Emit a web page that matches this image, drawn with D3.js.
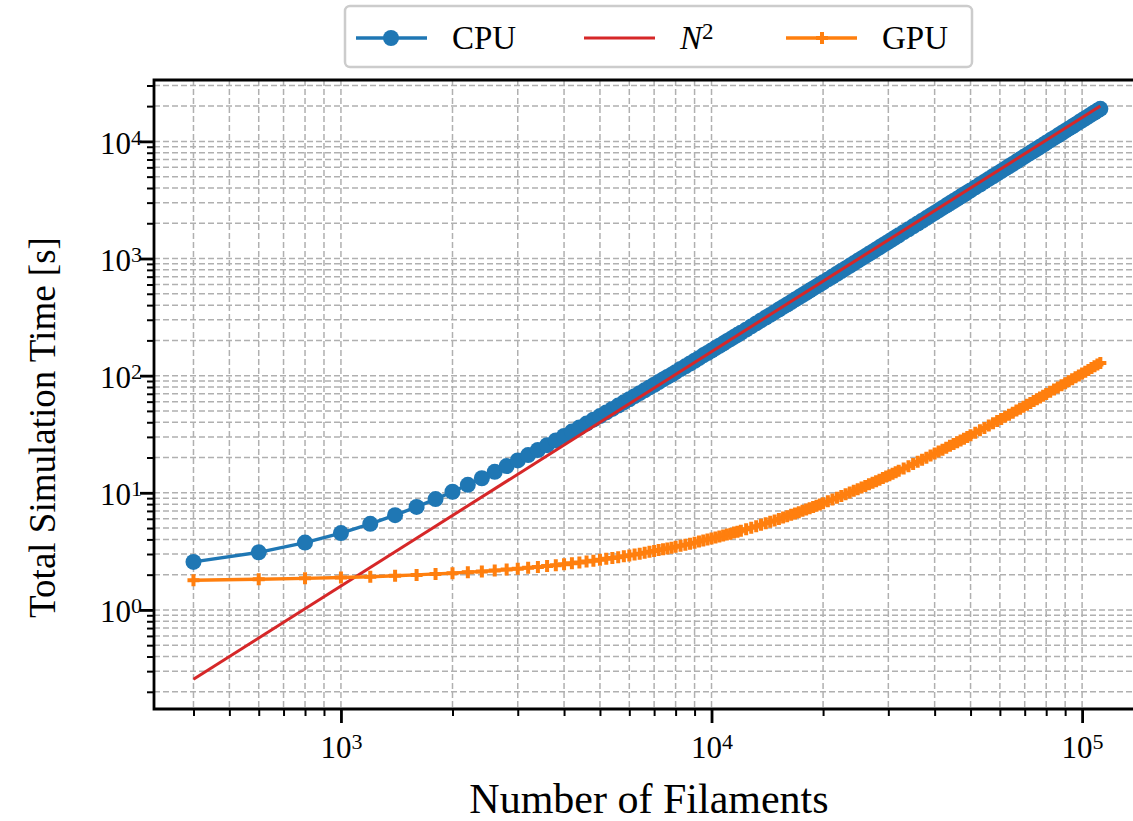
<!DOCTYPE html>
<html>
<head>
<meta charset="utf-8">
<script src="https://cdn.jsdelivr.net/npm/d3@7"></script>
<style>
  html, body { margin: 0; padding: 0; background: #fff; }
  svg { display: block; }
  svg text { font-family: "Liberation Serif", "DejaVu Serif", serif; }
</style>
</head>
<body>
<svg id="chart" width="1133" height="821"></svg>
<script>
  // --------------------------------------------------
  // 1. Data
  // --------------------------------------------------
  const filaments = [
    400, 600, 800, 1000, 1200, 1400, 1600, 1800, 2000, 2200, 2400, 2600, 2800, 3000, 3200, 3400, 3600, 3800, 4000,
    4200, 4400, 4600, 4800, 5000, 5200, 5400, 5600, 5800, 6000, 6200, 6400, 6600, 6800, 7000, 7200, 7400, 7600, 7800, 8000,
    8250, 8500, 8750, 9000, 9250, 9500, 9750, 10000, 10250, 10500, 10750, 11000, 11250, 11500, 11750, 12000,
    12400, 12800, 13200, 13600, 14000, 14400, 14800, 15200, 15600, 16000, 16400, 16800, 17200, 17600, 18000, 18400, 18800, 19200, 19600, 20000,
    20600, 21200, 21800, 22400, 23000, 23600, 24200, 24800, 25400, 26000, 26600, 27200, 27800, 28400, 29000, 29600, 30200, 30800, 31400, 32000,
    33000, 34000, 35000, 36000, 37000, 38000, 39000, 40000, 41000, 42000, 43000, 44000, 45000, 46000, 47000, 48000, 49000, 50000,
    51500, 53000, 54500, 56000, 57500, 59000, 60500, 62000, 63500, 65000, 66500, 68000, 69500, 71000, 72500, 74000, 75500, 77000, 78500, 80000,
    82000, 84000, 86000, 88000, 90000, 92000, 94000, 96000, 98000, 100000, 102000, 104000, 106000, 108000, 110000, 112000
  ];

  const cpuTime = [
    2.57, 3.10, 3.76, 4.53, 5.43, 6.44, 7.57, 8.83, 10.2, 11.7, 13.3, 15.1, 16.9, 18.9, 21.0, 23.2, 25.5, 28.0, 30.6,
    33.3, 36.1, 39.0, 42.1, 45.2, 48.5, 52.0, 55.5, 59.2, 62.9, 66.8, 70.9, 75.0, 79.3, 83.6, 88.1, 92.8, 97.5, 102, 107,
    114, 120, 127, 134, 141, 149, 156, 164, 172, 180, 188, 197, 205, 214, 223, 232,
    247, 263, 279, 296, 313, 330, 348, 367, 386, 405, 425, 446, 466, 488, 510, 532, 555, 578, 602, 626,
    663, 702, 741, 782, 823, 866, 910, 955, 1001, 1048, 1096, 1145, 1195, 1247, 1299, 1353, 1407, 1463, 1520, 1578,
    1677, 1778, 1883, 1991, 2102, 2216, 2333, 2452, 2575, 2701, 2830, 2962, 3097, 3235, 3376, 3519, 3666, 3816,
    4047, 4284, 4528, 4779, 5036, 5301, 5572, 5850, 6134, 6426, 6724, 7029, 7340, 7659, 7984, 8316, 8654, 9000, 9352, 9711,
    10200, 10701, 11214, 11740, 12277, 12826, 13387, 13961, 14546, 15143, 15752, 16374, 17007, 17653, 18310, 18979
  ];

  const gpuTime = [
    1.79, 1.83, 1.86, 1.89, 1.92, 1.96, 1.99, 2.03, 2.06, 2.10, 2.13, 2.17, 2.21, 2.25, 2.29, 2.33, 2.37, 2.41, 2.46,
    2.50, 2.54, 2.59, 2.63, 2.68, 2.73, 2.78, 2.82, 2.87, 2.92, 2.97, 3.02, 3.08, 3.13, 3.18, 3.24, 3.29, 3.35, 3.40, 3.46,
    3.53, 3.60, 3.68, 3.75, 3.83, 3.91, 3.99, 4.07, 4.15, 4.23, 4.31, 4.40, 4.48, 4.57, 4.65, 4.74,
    4.89, 5.03, 5.18, 5.34, 5.49, 5.65, 5.81, 5.97, 6.14, 6.31, 6.48, 6.66, 6.83, 7.01, 7.20, 7.38, 7.57, 7.76, 7.96, 8.16,
    8.46, 8.76, 9.08, 9.40, 9.73, 10.06, 10.40, 10.74, 11.10, 11.45, 11.82, 12.19, 12.57, 12.95, 13.34, 13.74, 14.14, 14.55, 14.96, 15.39,
    16.10, 16.84, 17.59, 18.36, 19.15, 19.95, 20.77, 21.62, 22.47, 23.35, 24.24, 25.15, 26.08, 27.03, 27.99, 28.97, 29.97, 30.99,
    32.54, 34.14, 35.78, 37.45, 39.17, 40.92, 42.72, 44.55, 46.43, 48.34, 50.29, 52.29, 54.32, 56.39, 58.50, 60.65, 62.84, 65.08, 67.35, 69.66,
    72.80, 76.01, 79.29, 82.64, 86.07, 89.56, 93.12, 96.76, 100.5, 104.2, 108.1, 112.0, 116.0, 120.0, 124.2, 128.4
  ];

  // reference N^2 curve (straight line in log-log)
  const n2Filaments = [400, 112000];
  const n2Time = [0.256, 20070];

  const seriesNames = ["CPU", "N2", "GPU"];
  const xMajorTicks = [1e3, 1e4, 1e5];
  const yMajorTicks = [1e0, 1e1, 1e2, 1e3, 1e4];

  // --------------------------------------------------
  // 2. Scales
  // --------------------------------------------------
  const svg = d3.select("#chart");
  const plot = { left: 154, right: 1144, top: 80, bottom: 709 };

  const x = d3.scaleLog().domain([313, 146900]).range([plot.left, plot.right]);
  const y = d3.scaleLog().domain([0.1426, 33420]).range([plot.bottom, plot.top]);

  const colors = { CPU: "#1f77b4", N2: "#d62728", GPU: "#ff7f0e" };
  const gridColor = "#b0b0b0";
  const lw = 3.4;        // data line width
  const markerR = 8;     // CPU circle radius
  const plusW = 4;       // GPU plus stroke

  svg.append("rect").attr("width", 1133).attr("height", 821).attr("fill", "#fff");

  svg.append("defs").append("clipPath").attr("id", "plotclip")
    .append("rect")
    .attr("x", plot.left).attr("y", plot.top)
    .attr("width", plot.right - plot.left).attr("height", plot.bottom - plot.top);

  // --------------------------------------------------
  // 3. Grid (major + minor, dashed)
  // --------------------------------------------------
  const xTicksAll = x.ticks();
  const yTicksAll = y.ticks();

  const grid = svg.append("g").attr("class", "grid");
  grid.selectAll("line.vx")
    .data(xTicksAll)
    .enter().append("line")
    .attr("class", "vx")
    .attr("x1", d => x(d)).attr("x2", d => x(d))
    .attr("y1", plot.top).attr("y2", plot.bottom);
  grid.selectAll("line.hy")
    .data(yTicksAll)
    .enter().append("line")
    .attr("class", "hy")
    .attr("y1", d => y(d)).attr("y2", d => y(d))
    .attr("x1", plot.left).attr("x2", plot.right);
  grid.selectAll("line")
    .style("stroke", gridColor)
    .style("stroke-width", 1.5)
    .style("stroke-dasharray", "6,3");

  // --------------------------------------------------
  // 4. Series
  // --------------------------------------------------
  const data = {
    CPU: filaments.map((n, i) => [n, cpuTime[i]]),
    N2: n2Filaments.map((n, i) => [n, n2Time[i]]),
    GPU: filaments.map((n, i) => [n, gpuTime[i]])
  };

  const lineGen = d3.line().x(d => x(d[0])).y(d => y(d[1]));
  const plotArea = svg.append("g").attr("clip-path", "url(#plotclip)");

  // CPU: line + circles
  plotArea.append("path")
    .datum(data.CPU)
    .attr("d", lineGen)
    .style("fill", "none")
    .style("stroke", colors.CPU)
    .style("stroke-width", lw);
  plotArea.selectAll("circle.cpu")
    .data(data.CPU)
    .enter().append("circle")
    .attr("class", "cpu")
    .attr("cx", d => x(d[0]))
    .attr("cy", d => y(d[1]))
    .attr("r", markerR)
    .style("fill", colors.CPU);

  // N^2 reference
  plotArea.append("path")
    .datum(data.N2)
    .attr("d", lineGen)
    .style("fill", "none")
    .style("stroke", colors.N2)
    .style("stroke-width", 3);

  // GPU: line + plus markers
  const plusPath = "M-6,0H6M0,-6V6";
  plotArea.append("path")
    .datum(data.GPU)
    .attr("d", lineGen)
    .style("fill", "none")
    .style("stroke", colors.GPU)
    .style("stroke-width", lw);
  plotArea.selectAll("path.gpu")
    .data(data.GPU)
    .enter().append("path")
    .attr("class", "gpu")
    .attr("transform", d => `translate(${x(d[0])},${y(d[1])})`)
    .attr("d", plusPath)
    .style("fill", "none")
    .style("stroke", colors.GPU)
    .style("stroke-width", plusW);

  // --------------------------------------------------
  // 5. Axes (minor + major ticks, power labels)
  // --------------------------------------------------
  const isMajor = v => Math.abs(Math.log10(v) - Math.round(Math.log10(v))) < 1e-9;

  function styleAxis(g, width) {
    g.select(".domain").remove();
    g.selectAll(".tick line").style("stroke", "#000").style("stroke-width", width);
    g.selectAll(".tick text").remove();
  }

  svg.append("g")
    .attr("transform", `translate(0,${plot.bottom})`)
    .call(d3.axisBottom(x).tickValues(xTicksAll.filter(d => !isMajor(d))).tickSize(7).tickFormat(""))
    .call(g => styleAxis(g, 2));
  const xMajor = svg.append("g")
    .attr("transform", `translate(0,${plot.bottom})`)
    .call(d3.axisBottom(x).tickValues(xMajorTicks).tickSize(14).tickFormat(""))
    .call(g => styleAxis(g, 2.8));

  svg.append("g")
    .attr("transform", `translate(${plot.left},0)`)
    .call(d3.axisLeft(y).tickValues(yTicksAll.filter(d => !isMajor(d))).tickSize(7).tickFormat(""))
    .call(g => styleAxis(g, 2));
  const yMajor = svg.append("g")
    .attr("transform", `translate(${plot.left},0)`)
    .call(d3.axisLeft(y).tickValues(yMajorTicks).tickSize(14).tickFormat(""))
    .call(g => styleAxis(g, 2.8));

  function powerLabel(sel) {
    sel.append("tspan").style("font-size", "31px").text("10");
    sel.append("tspan")
      .attr("dy", "-0.42em")
      .style("font-size", "22px")
      .text(d => Math.round(Math.log10(d)));
  }

  xMajor.selectAll(".tick")
    .append("text")
    .attr("y", 49)
    .attr("text-anchor", "middle")
    .attr("fill", "#000")
    .call(powerLabel);

  yMajor.selectAll(".tick")
    .append("text")
    .attr("x", -12)
    .attr("y", 12)
    .attr("text-anchor", "end")
    .attr("fill", "#000")
    .call(powerLabel);

  // spines (right one falls outside the picture)
  svg.append("path")
    .attr("d", `M${plot.right},${plot.top}H${plot.left}V${plot.bottom}H${plot.right}`)
    .style("fill", "none")
    .style("stroke", "#000")
    .style("stroke-width", 2.8);

  // axis titles
  svg.append("text")
    .attr("x", (plot.left + plot.right) / 2)
    .attr("y", 813)
    .attr("text-anchor", "middle")
    .style("font-size", "42px")
    .text("Number of Filaments");

  svg.append("text")
    .attr("transform", `translate(55,${(plot.top + plot.bottom) / 2 + 33}) rotate(-90)`)
    .attr("text-anchor", "middle")
    .style("font-size", "37px")
    .text("Total Simulation Time [s]");

  // --------------------------------------------------
  // 6. Legend
  // --------------------------------------------------
  const legend = svg.append("g").attr("class", "legend");
  legend.append("rect")
    .attr("x", 345).attr("y", 6)
    .attr("width", 627).attr("height", 61)
    .attr("rx", 5)
    .style("fill", "#fff")
    .style("stroke", "#cccccc")
    .style("stroke-width", 2.5);

  const legendX = { CPU: 356, N2: 584, GPU: 786 };
  const legendY = 38;
  seriesNames.forEach(name => {
    const lx = legendX[name];
    legend.append("line")
      .attr("x1", lx).attr("x2", lx + 71)
      .attr("y1", legendY).attr("y2", legendY)
      .style("stroke", colors[name])
      .style("stroke-width", name === "N2" ? 3 : lw);
    if (name === "CPU") {
      legend.append("circle")
        .attr("cx", lx + 35).attr("cy", legendY).attr("r", markerR)
        .style("fill", colors.CPU);
    }
    if (name === "GPU") {
      legend.append("path")
        .attr("transform", `translate(${lx + 36},${legendY})`)
        .attr("d", plusPath)
        .style("stroke", colors.GPU)
        .style("stroke-width", plusW);
    }
    const t = legend.append("text")
      .attr("x", lx + 96)
      .attr("y", legendY + 11)
      .style("font-size", "33px");
    if (name === "N2") {
      t.append("tspan").style("font-style", "italic").text("N");
      t.append("tspan").attr("dy", "-0.45em").style("font-size", "23px").text("2");
    } else {
      t.text(name);
    }
  });
</script>
</body>
</html>
